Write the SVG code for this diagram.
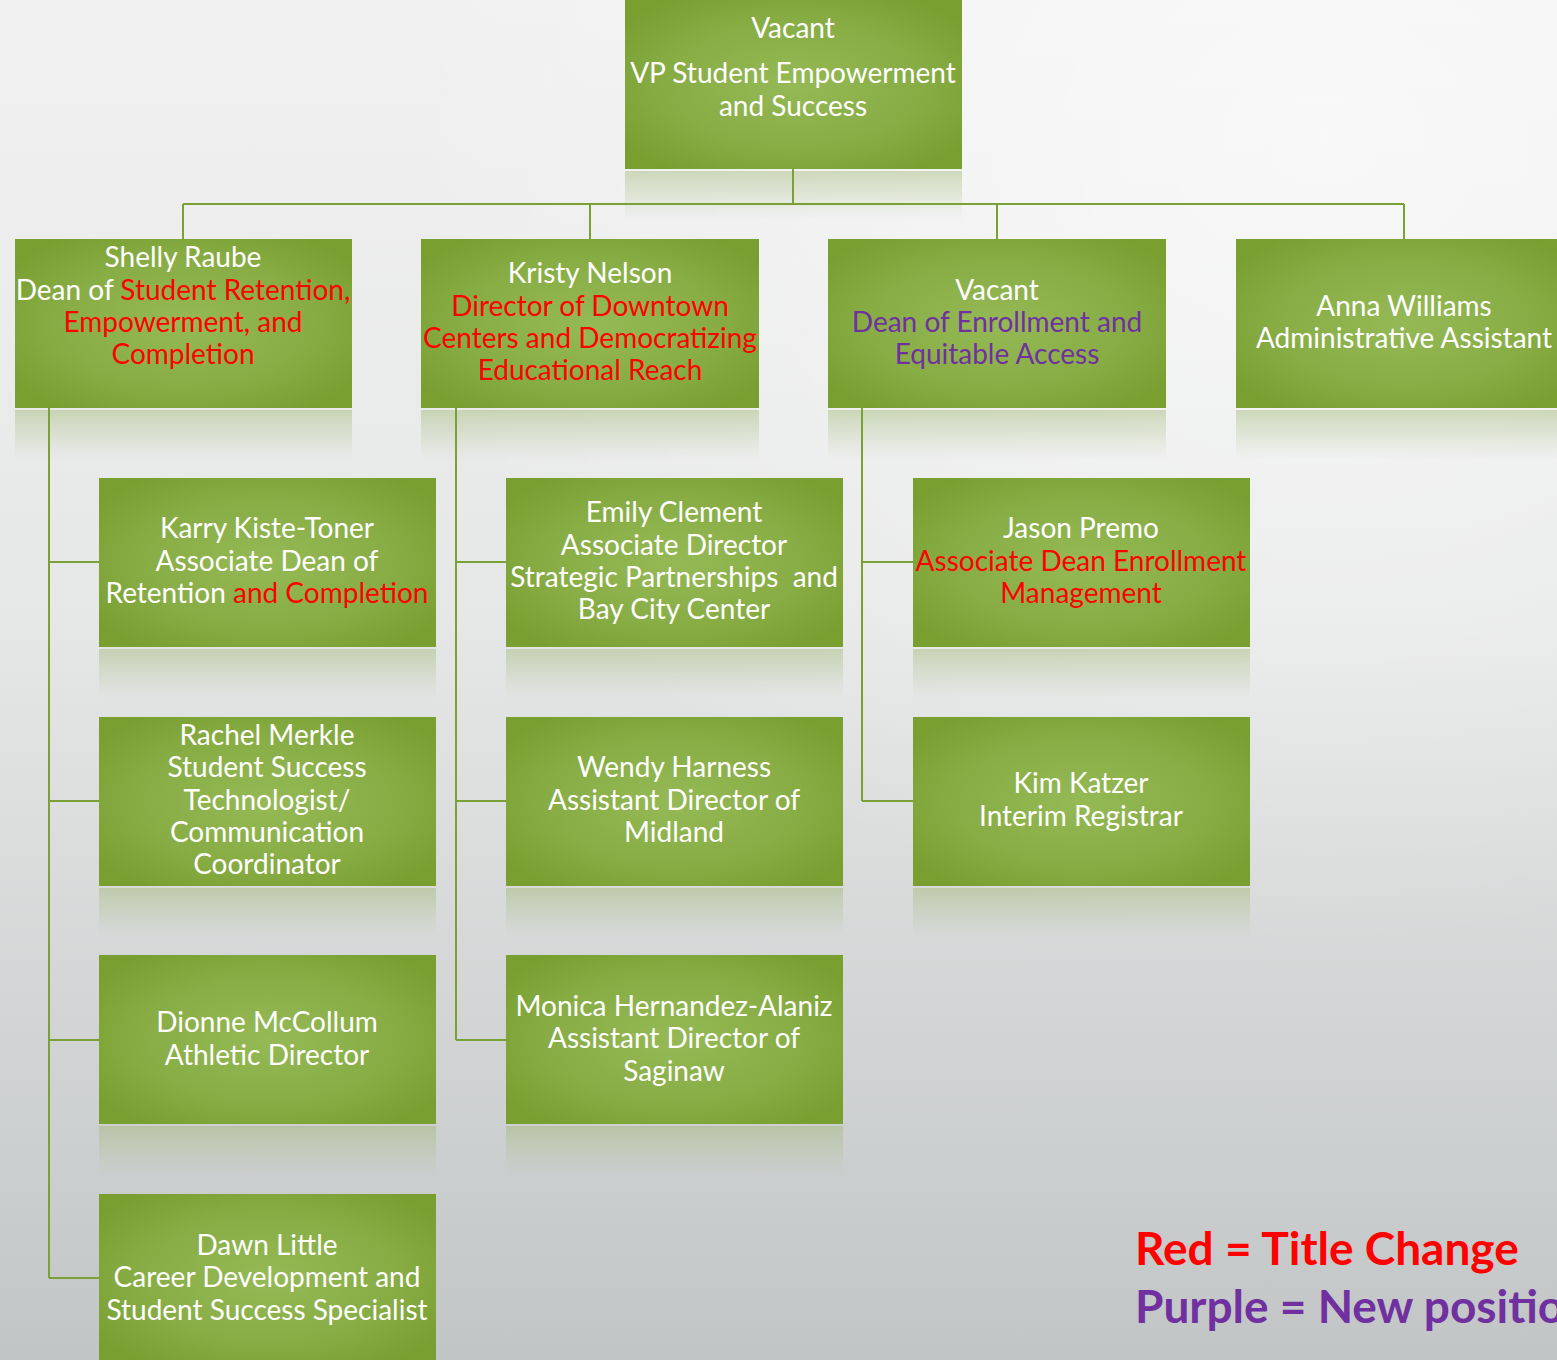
<svg xmlns="http://www.w3.org/2000/svg" width="1557" height="1360" viewBox="0 0 1557 1360">
<defs>
<linearGradient id="bg" x1="0" y1="0" x2="0" y2="1">
<stop offset="0" stop-color="#f1f1f1"/>
<stop offset="0.45" stop-color="#e6e7e7"/>
<stop offset="1" stop-color="#c2c5c6"/>
</linearGradient>
<radialGradient id="hl" cx="0.85" cy="0.1" r="0.6">
<stop offset="0" stop-color="#ffffff" stop-opacity="0.6"/>
<stop offset="1" stop-color="#ffffff" stop-opacity="0"/>
</radialGradient>
<radialGradient id="box" cx="0.5" cy="0.5" r="0.62">
<stop offset="0" stop-color="#95b955"/>
<stop offset="0.6" stop-color="#88ad45"/>
<stop offset="1" stop-color="#799f31"/>
</radialGradient>
<linearGradient id="refl" x1="0" y1="0" x2="0" y2="1">
<stop offset="0" stop-color="#9ab36a" stop-opacity="0.42"/>
<stop offset="0.5" stop-color="#a4bb7a" stop-opacity="0.22"/>
<stop offset="1" stop-color="#b5c497" stop-opacity="0"/>
</linearGradient>
</defs>
<style>
.b{fill:url(#box);}
.r{fill:url(#refl);}
.t{font-family:Lato,"Open Sans","Liberation Sans",sans-serif;font-size:28px;fill:#ffffff;text-anchor:middle;}
.red{fill:#ff0000;}
.pur{fill:#7030a0;}
.c{fill:none;stroke:#7aa036;stroke-width:2;}
.leg{font-family:Lato,"Open Sans","Liberation Sans",sans-serif;font-size:46px;font-weight:bold;}
</style>
<rect x="0" y="0" width="1557" height="1360" fill="url(#bg)"/>
<rect x="0" y="0" width="1557" height="1360" fill="url(#hl)"/>

<g id="reflections">
<rect class="r" x="625" y="171" width="337" height="50"/>
<rect class="r" x="15" y="410" width="337" height="50"/>
<rect class="r" x="421" y="410" width="338" height="50"/>
<rect class="r" x="828" y="410" width="338" height="50"/>
<rect class="r" x="1236" y="410" width="337" height="50"/>
<rect class="r" x="99" y="649" width="337" height="50"/>
<rect class="r" x="506" y="649" width="337" height="50"/>
<rect class="r" x="913" y="649" width="337" height="50"/>
<rect class="r" x="99" y="888" width="337" height="50"/>
<rect class="r" x="506" y="888" width="337" height="50"/>
<rect class="r" x="913" y="888" width="337" height="50"/>
<rect class="r" x="99" y="1126" width="337" height="50"/>
<rect class="r" x="506" y="1126" width="337" height="50"/>
</g>

<g id="connectors">
<path class="c" d="M793,169 V204 M183,204 H1404 M183,204 V239 M590,204 V239 M997,204 V239 M1404,204 V239"/>
<path class="c" d="M49,408 V1278 M49,562 H99 M49,801 H99 M49,1040 H99 M49,1278 H99"/>
<path class="c" d="M456,408 V1040 M456,562 H506 M456,801 H506 M456,1040 H506"/>
<path class="c" d="M862,408 V801 M862,562 H913 M862,801 H913"/>
</g>

<g id="vp">
<rect class="b" x="625" y="0" width="337" height="169"/>
<text class="t"><tspan x="793" y="38">Vacant</tspan><tspan x="793" y="83">VP Student Empowerment</tspan><tspan x="793" y="116">and Success</tspan></text>
</g>

<g id="raube">
<rect class="b" x="15" y="239" width="337" height="169"/>
<text class="t"><tspan x="183" y="267">Shelly Raube</tspan><tspan x="183" y="300">Dean of <tspan class="red">Student Retention,</tspan></tspan><tspan x="183" y="332" class="red">Empowerment, and</tspan><tspan x="183" y="364" class="red">Completion</tspan></text>
</g>

<g id="nelson">
<rect class="b" x="421" y="239" width="338" height="169"/>
<text class="t"><tspan x="590" y="283">Kristy Nelson</tspan><tspan x="590" y="316" class="red">Director of Downtown</tspan><tspan x="590" y="348" class="red">Centers and Democratizing</tspan><tspan x="590" y="380" class="red">Educational Reach</tspan></text>
</g>

<g id="dean-enrollment">
<rect class="b" x="828" y="239" width="338" height="169"/>
<text class="t"><tspan x="997" y="300">Vacant</tspan><tspan x="997" y="332" class="pur">Dean of Enrollment and</tspan><tspan x="997" y="364" class="pur">Equitable Access</tspan></text>
</g>

<g id="williams">
<rect class="b" x="1236" y="239" width="337" height="169"/>
<text class="t"><tspan x="1404" y="316">Anna Williams</tspan><tspan x="1404" y="348">Administrative Assistant</tspan></text>
</g>

<g id="kiste-toner">
<rect class="b" x="99" y="478" width="337" height="169"/>
<text class="t"><tspan x="267" y="538">Karry Kiste-Toner</tspan><tspan x="267" y="571">Associate Dean of</tspan><tspan x="267" y="603">Retention <tspan class="red">and Completion</tspan></tspan></text>
</g>

<g id="clement">
<rect class="b" x="506" y="478" width="337" height="169"/>
<text class="t"><tspan x="674" y="522">Emily Clement</tspan><tspan x="674" y="555">Associate Director</tspan><tspan x="674" y="587">Strategic Partnerships &#160;and</tspan><tspan x="674" y="619">Bay City Center</tspan></text>
</g>

<g id="premo">
<rect class="b" x="913" y="478" width="337" height="169"/>
<text class="t"><tspan x="1081" y="538">Jason Premo</tspan><tspan x="1081" y="571" class="red">Associate Dean Enrollment</tspan><tspan x="1081" y="603" class="red">Management</tspan></text>
</g>

<g id="merkle">
<rect class="b" x="99" y="717" width="337" height="169"/>
<text class="t"><tspan x="267" y="745">Rachel Merkle</tspan><tspan x="267" y="777">Student Success</tspan><tspan x="267" y="810">Technologist/</tspan><tspan x="267" y="842">Communication</tspan><tspan x="267" y="874">Coordinator</tspan></text>
</g>

<g id="harness">
<rect class="b" x="506" y="717" width="337" height="169"/>
<text class="t"><tspan x="674" y="777">Wendy Harness</tspan><tspan x="674" y="810">Assistant Director of</tspan><tspan x="674" y="842">Midland</tspan></text>
</g>

<g id="katzer">
<rect class="b" x="913" y="717" width="337" height="169"/>
<text class="t"><tspan x="1081" y="793">Kim Katzer</tspan><tspan x="1081" y="826">Interim Registrar</tspan></text>
</g>

<g id="mccollum">
<rect class="b" x="99" y="955" width="337" height="169"/>
<text class="t"><tspan x="267" y="1032">Dionne McCollum</tspan><tspan x="267" y="1065">Athletic Director</tspan></text>
</g>

<g id="hernandez-alaniz">
<rect class="b" x="506" y="955" width="337" height="169"/>
<text class="t"><tspan x="674" y="1016">Monica Hernandez-Alaniz</tspan><tspan x="674" y="1048">Assistant Director of</tspan><tspan x="674" y="1081">Saginaw</tspan></text>
</g>

<g id="little">
<rect class="b" x="99" y="1194" width="337" height="169"/>
<text class="t"><tspan x="267" y="1255">Dawn Little</tspan><tspan x="267" y="1287">Career Development and</tspan><tspan x="267" y="1320">Student Success Specialist</tspan></text>
</g>

<g id="legend">
<text class="leg" x="1135" y="1265" fill="#ff0000">Red = Title Change</text>
<text class="leg" x="1135" y="1323" fill="#7030a0">Purple = New position</text>
</g>
</svg>
